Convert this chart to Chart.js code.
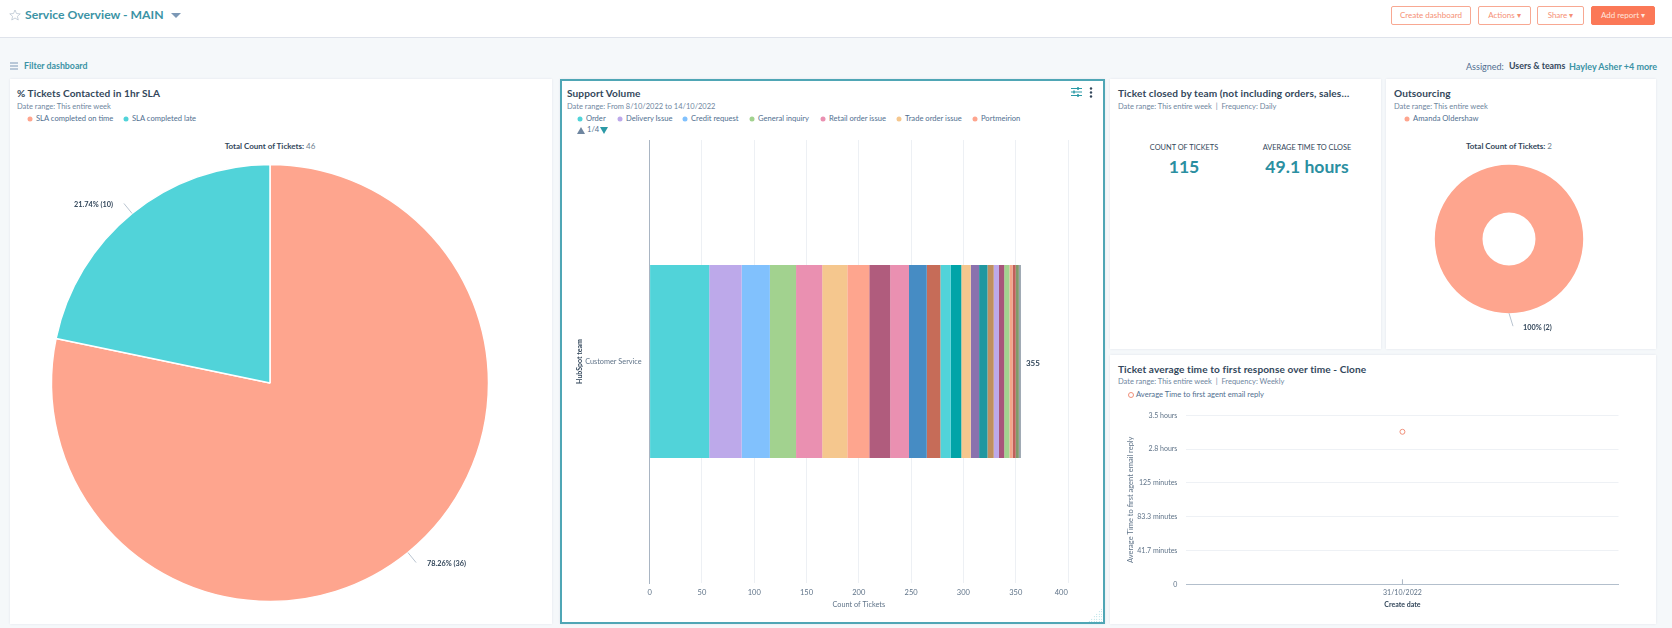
<!DOCTYPE html>
<html>
<head>
<meta charset="utf-8">
<title>Service Overview - MAIN</title>
<script src="https://cdn.jsdelivr.net/npm/chart.js@4"></script>
<style>
html, body { margin: 0; padding: 0; width: 1672px; height: 628px; overflow: hidden; background: #f5f8fa; font-family: Lato, "Open Sans", sans-serif; color: #33475b; }
.t { position: absolute; transform: translateY(-50%); white-space: nowrap; line-height: 1; }
.header { position: absolute; left: 0; top: 0; width: 1672px; height: 37px; background: #fff; border-bottom: 1px solid #dfe3eb; }
.card { position: absolute; background: #fff; box-shadow: 0 0 2px rgba(80, 100, 130, .12); }
.active { box-sizing: border-box; border: 2px solid #4fa6b5; }
.title { font-size: 10.1px; font-weight: 700; color: #33475b; letter-spacing: .1px; }
.sub { font-size: 7.5px; color: #6f86a0; }
.leg { font-size: 7.6px; color: #516f90; }
.dot { position: absolute; width: 5px; height: 5px; border-radius: 50%; transform: translate(-50%, -50%); }
.total { font-size: 8px; font-weight: 700; color: #33475b; transform: translate(-50%, -50%); }
.total span { font-weight: 400; color: #6f7f90; }
.btn { position: absolute; top: 6px; height: 19px; box-sizing: border-box; border: 1px solid #f8a892; border-radius: 2px; background: #fff; color: #f58f75; font-size: 8px; line-height: 17px; text-align: center; }
.btn.fill { background: #fb7857; border-color: #fb7857; color: #ffe6de; }
.kpi-h { font-size: 7.4px; color: #33475b; transform: translate(-50%, -50%); }
.kpi-v { font-size: 17.6px; font-weight: 700; color: #2b8fa1; transform: translate(-50%, -50%); }
canvas { position: absolute; }
.tri-d { position: absolute; width: 0; height: 0; border-left: 4px solid transparent; border-right: 4px solid transparent; border-top: 7px solid #2b99a6; }
.tri-u { position: absolute; width: 0; height: 0; border-left: 4px solid transparent; border-right: 4px solid transparent; border-bottom: 7px solid #6f86a0; }
.grip { position: absolute; left: 1088px; top: 608px; width: 14px; height: 14px; background-image: radial-gradient(#8fd0d8 .7px, transparent .8px); background-size: 2.5px 2.5px; clip-path: polygon(100% 0, 100% 100%, 0 100%); }
</style>
</head>
<body>
<div class="header"></div>
<svg style="position:absolute;left:9px;top:9px" width="12" height="12" viewBox="0 0 24 24"><path d="M12 2l3 7 7.500 .7-5.700 5 1.700 7.300L12 18l-6.500 4 1.700-7.300-5.700-5L9 9z" fill="none" stroke="#b7c3d0" stroke-width="1.500"/></svg>
<div class="t" style="left:25px;top:15px;font-size:12.2px;font-weight:700;color:#3b93a5">Service Overview - MAIN</div>
<div style="position:absolute;left:171px;top:13px;width:0;height:0;border-left:5px solid transparent;border-right:5px solid transparent;border-top:5px solid #7c98b6"></div>
<div class="btn" style="left:1391px;width:80px">Create dashboard</div>
<div class="btn" style="left:1478px;width:53px">Actions &#9662;</div>
<div class="btn" style="left:1537px;width:47px">Share &#9662;</div>
<div class="btn fill" style="left:1591px;width:64px">Add report &#9662;</div>

<svg style="position:absolute;left:10px;top:62px" width="8" height="8" viewBox="0 0 8 8"><path d="M0 1h8M0 4h8M0 7h8" stroke="#7c98b6" stroke-width="1"/></svg>
<div class="t" style="left:24px;top:66px;font-size:8.8px;font-weight:700;color:#3b93a5">Filter dashboard</div>
<div class="t" style="left:1466px;top:66px;font-size:9px;color:#516f90">Assigned:</div>
<div class="t" style="left:1509px;top:66px;font-size:8.8px;font-weight:700;color:#33475b">Users &amp; teams</div>
<div class="t" style="left:1569px;top:66px;font-size:9px;font-weight:700;color:#3b93a5">Hayley Asher +4 more</div>

<div class="card" style="left:10px;top:79px;width:542px;height:545px"></div>
<div class="card active" style="left:560px;top:79px;width:545px;height:545px"></div>
<div class="card" style="left:1110px;top:79px;width:271px;height:270px"></div>
<div class="card" style="left:1386px;top:79px;width:270px;height:270px"></div>
<div class="card" style="left:1110px;top:355px;width:546px;height:269px"></div>
<div class="grip"></div>

<div class="t title" style="left:17px;top:93px">% Tickets Contacted in 1hr SLA</div>
<div class="t sub" style="left:17px;top:107px">Date range: This entire week</div>
<div id="legend-sla"></div>
<div class="t total" style="left:270px;top:146px">Total Count of Tickets: <span id="sla-total"></span></div>

<div class="t title" style="left:567px;top:93px">Support Volume</div>
<div class="t sub" style="left:567px;top:107px">Date range: From 8/10/2022 to 14/10/2022</div>
<div id="legend-volume"></div>
<div class="tri-u" style="left:577px;top:127px"></div>
<div class="t leg" style="left:587px;top:130px">1/4</div>
<div class="tri-d" style="left:600px;top:127px"></div>
<svg style="position:absolute;left:1071px;top:87px" width="11" height="10" viewBox="0 0 11 10"><path d="M0 1.500h11M0 5h11M0 8.500h11" stroke="#2b99a6" stroke-width="1"/><path d="M7 0v3M3 3.500v3M7 7v3" stroke="#2b99a6" stroke-width="1.500"/></svg>
<svg style="position:absolute;left:1089px;top:87px" width="4" height="11" viewBox="0 0 4 11"><circle cx="2" cy="1.500" r="1.200" fill="#33475b"/><circle cx="2" cy="5.500" r="1.200" fill="#33475b"/><circle cx="2" cy="9.500" r="1.200" fill="#33475b"/></svg>

<div class="t title" style="left:1118px;top:93px">Ticket closed by team (not including orders, sales&hellip;</div>
<div class="t sub" style="left:1118px;top:107px">Date range: This entire week &nbsp;|&nbsp; Frequency: Daily</div>
<div class="t kpi-h" style="left:1184px;top:148px">COUNT OF TICKETS</div>
<div class="t kpi-v" style="left:1184px;top:167px">115</div>
<div class="t kpi-h" style="left:1307px;top:148px">AVERAGE TIME TO CLOSE</div>
<div class="t kpi-v" style="left:1307px;top:167px">49.1 hours</div>

<div class="t title" style="left:1394px;top:93px">Outsourcing</div>
<div class="t sub" style="left:1394px;top:107px">Date range: This entire week</div>
<div id="legend-outsource"></div>
<div class="t total" style="left:1509px;top:146px">Total Count of Tickets: <span id="outsource-total"></span></div>

<div class="t title" style="left:1118px;top:369px">Ticket average time to first response over time - Clone</div>
<div class="t sub" style="left:1118px;top:382px">Date range: This entire week &nbsp;|&nbsp; Frequency: Weekly</div>
<div class="dot" style="left:1131px;top:395px;background:#fff;border:1px solid #f0907a;width:4px;height:4px"></div>
<div class="t leg" style="left:1136px;top:395px">Average Time to first agent email reply</div>

<canvas id="slaPie"></canvas>
<canvas id="volumeBar"></canvas>
<canvas id="outsourceDonut"></canvas>
<canvas id="responseLine"></canvas>

<script>
// SLA pie
const slaLabels = ['SLA completed on time', 'SLA completed late'];
const slaValues = [36, 10];
const slaColors = ['#fea58e', '#51d3d9'];

// Support volume stacked bar
const volumeCategories = ['Customer Service'];
const volumeNames = ['Order', 'Delivery Issue', 'Credit request', 'General inquiry', 'Retail order issue', 'Trade order issue', 'Portmeirion'];
const volumeValues = [57, 31, 27, 25, 25, 24, 21, 20, 18, 17, 13, 10, 10, 9, 8, 8, 6, 5, 5, 5, 3, 3, 3, 2];
const volumeColors = ['#51d3d9', '#bda9ea', '#81c1fd', '#a2d28f', '#ea90b1', '#f5c78e', '#fea58e', '#b05c7d', '#ea90b1', '#468cc4',
    '#c66c58', '#51d3d9', '#00a4a8', '#f5c78e', '#8a72ae', '#2097a0', '#bf8f60', '#bda9ea', '#a8547a', '#a2d28f', '#f5a58a', '#c0605a', '#7f9a6a', '#9aa5b0'];
const volumeTicks = [0, 50, 100, 150, 200, 250, 300, 350, 400];

// Outsourcing donut
const outsourceLabels = ['Amanda Oldershaw'];
const outsourceValues = [2];

// First response line
const responseDates = ['31/10/2022'];
const responseMinutes = [188];
const responseTickValues = [0, 41.67, 83.33, 125, 166.67, 208.33];
const responseTickLabels = ['0', '41.7 minutes', '83.3 minutes', '125 minutes', '2.8 hours', '3.5 hours'];

const FONT = 'Lato, "Open Sans", sans-serif';
const TICK_COLOR = '#5f7388';
Chart.defaults.font.family = FONT;
Chart.defaults.animation = false;
Chart.defaults.responsive = false;
Chart.defaults.plugins.legend.display = false;
Chart.defaults.plugins.tooltip.enabled = false;

function place(id, left, top, width, height) {
    const el = document.getElementById(id);
    el.style.left = left + 'px';
    el.style.top = top + 'px';
    el.width = width;
    el.height = height;
    return el;
}

function addLegend(id, names, colors, xs, y) {
    const box = document.getElementById(id);
    names.forEach((name, i) => {
        box.insertAdjacentHTML('beforeend',
            `<div class="dot" style="left:${xs[i]}px;top:${y}px;background:${colors[i]}"></div>` +
            `<div class="t leg" style="left:${xs[i] + 6}px;top:${y}px">${name}</div>`);
    });
}

// stop tick labels from pushing the plot area around
function fixHeight(h) {
    return scale => { scale.height = h; scale.paddingLeft = 0; scale.paddingRight = 0; };
}
function fixWidth(w) {
    return scale => { scale.width = w; scale.paddingTop = 0; scale.paddingBottom = 0; };
}

addLegend('legend-sla', slaLabels, slaColors, [30, 126], 119);
addLegend('legend-volume', volumeNames, volumeColors, [580, 620, 685, 752, 823, 899, 975], 119);
addLegend('legend-outsource', outsourceLabels, [slaColors[0]], [1407], 119);
document.getElementById('sla-total').textContent = slaValues.reduce((a, b) => a + b, 0);
document.getElementById('outsource-total').textContent = outsourceValues.reduce((a, b) => a + b, 0);

// leader lines and labels outside the pie slices
const sliceLabels = {
    id: 'sliceLabels',
    afterDraw(chart, args, opts) {
        const ctx = chart.ctx;
        const data = chart.data.datasets[0].data;
        const total = data.reduce((a, b) => a + b, 0);
        chart.getDatasetMeta(0).data.forEach((arc, i) => {
            const p = arc.getProps(['x', 'y', 'startAngle', 'endAngle', 'outerRadius']);
            const mid = (p.startAngle + p.endAngle) / 2;
            const x0 = p.x + Math.cos(mid) * p.outerRadius;
            const y0 = p.y + Math.sin(mid) * p.outerRadius;
            const x1 = p.x + Math.cos(mid) * (p.outerRadius + opts.lead) + opts.nudge;
            const y1 = p.y + Math.sin(mid) * (p.outerRadius + opts.lead);
            ctx.save();
            ctx.strokeStyle = '#b9c4d0';
            ctx.lineWidth = 1;
            ctx.beginPath();
            ctx.moveTo(x0, y0);
            ctx.lineTo(x1, y1);
            ctx.stroke();
            const right = Math.cos(mid) >= -0.01;
            const pct = data[i] / total * 100;
            const text = (pct === 100 ? '100' : pct.toFixed(2)) + '% (' + data[i] + ')';
            ctx.font = '700 7.3px ' + FONT;
            ctx.fillStyle = '#33475b';
            ctx.textBaseline = 'middle';
            ctx.textAlign = right ? 'left' : 'right';
            ctx.fillText(text, x1 + (right ? opts.gap : -opts.gap), y1 + opts.drop);
            ctx.restore();
        });
    }
};

new Chart(place('slaPie', 20, 158, 500, 450), {
    type: 'pie',
    data: {
        labels: slaLabels,
        datasets: [{ data: slaValues, backgroundColor: slaColors, borderColor: '#fff', borderWidth: 1.5 }]
    },
    options: {
        layout: { padding: 5.75 },
        plugins: { sliceLabels: { lead: 13, nudge: 0, gap: 11, drop: 1 } }
    },
    plugins: [sliceLabels]
});

new Chart(place('outsourceDonut', 1391, 144, 236, 190), {
    type: 'doughnut',
    data: {
        labels: outsourceLabels,
        datasets: [{ data: outsourceValues, backgroundColor: [slaColors[0]], borderWidth: 0 }]
    },
    options: {
        cutout: '35.7%',
        layout: { padding: 20.8 },
        plugins: { sliceLabels: { lead: 13, nudge: 4, gap: 10, drop: 1 } }
    },
    plugins: [sliceLabels]
});

// total at the end of the stack
const stackTotal = {
    id: 'stackTotal',
    afterDraw(chart) {
        const last = chart.getDatasetMeta(chart.data.datasets.length - 1).data[0];
        const total = chart.data.datasets.reduce((sum, d) => sum + d.data[0], 0);
        const ctx = chart.ctx;
        ctx.save();
        ctx.font = '700 8px ' + FONT;
        ctx.fillStyle = '#33475b';
        ctx.textBaseline = 'middle';
        ctx.fillText(total, last.x + 5, last.y + 2);
        ctx.restore();
    }
};

new Chart(place('volumeBar', 570, 135, 520, 480), {
    type: 'bar',
    data: {
        labels: volumeCategories,
        datasets: volumeValues.map((v, i) => ({
            label: volumeNames[i] || '',
            data: [v],
            backgroundColor: volumeColors[i],
            barPercentage: 1,
            categoryPercentage: 0.436
        }))
    },
    options: {
        indexAxis: 'y',
        layout: { padding: { top: 5, right: 22, left: 0, bottom: 6 } },
        scales: {
            x: {
                stacked: true,
                min: 0,
                max: 400,
                afterBuildTicks(scale) { scale.ticks = volumeTicks.map(value => ({ value })); },
                afterFit: fixHeight(26),
                grid: { color: '#edf0f4', drawTicks: false },
                border: { display: false },
                ticks: { color: TICK_COLOR, font: { size: 7.5 }, padding: 5, maxRotation: 0,
                    callback: v => v === 400 ? '400       ' : String(v) },
                title: { display: true, text: 'Count of Tickets', color: TICK_COLOR, font: { size: 7.3 }, padding: { top: 2, bottom: 0 } }
            },
            y: {
                stacked: true,
                afterFit: fixWidth(79.6),
                grid: { display: false, drawTicks: false },
                border: { color: '#a9b5c3', width: 1 },
                ticks: { color: TICK_COLOR, font: { size: 7.3 }, padding: 8 },
                title: { display: true, text: 'HubSpot team', color: '#33475b', font: { size: 7, weight: '700' }, padding: { top: 6, bottom: 0 } }
            }
        }
    },
    plugins: [stackTotal]
});

// small tick standing on the date axis
const dateTick = {
    id: 'dateTick',
    afterDraw(chart) {
        const ctx = chart.ctx;
        const x = chart.scales.x.getPixelForValue(0);
        const y = chart.scales.y.getPixelForValue(0);
        ctx.save();
        ctx.strokeStyle = '#a9b5c3';
        ctx.beginPath();
        ctx.moveTo(x, y);
        ctx.lineTo(x, y - 5);
        ctx.stroke();
        ctx.restore();
    }
};

new Chart(place('responseLine', 1122, 405, 520, 207), {
    type: 'line',
    data: {
        labels: responseDates,
        datasets: [{
            label: 'Average Time to first agent email reply',
            data: responseMinutes,
            showLine: false,
            pointRadius: 2.5,
            pointBorderWidth: 1,
            pointBorderColor: '#f0907a',
            pointBackgroundColor: '#fff'
        }]
    },
    options: {
        layout: { padding: { top: 10.3, right: 23.5, left: 0, bottom: 3 } },
        scales: {
            x: {
                offset: true,
                afterFit: fixHeight(24.7),
                grid: { display: false, drawTicks: false },
                border: { color: '#b3bfcc', width: 1 },
                ticks: { color: TICK_COLOR, font: { size: 7 }, padding: 4, maxRotation: 0 },
                title: { display: true, text: 'Create date', color: '#33475b', font: { size: 7, weight: '700' }, padding: { top: 1, bottom: 0 } }
            },
            y: {
                min: 0,
                max: 208.33,
                afterBuildTicks(scale) { scale.ticks = responseTickValues.map(value => ({ value })); },
                afterFit: fixWidth(64.4),
                grid: { color: '#eef1f5', drawTicks: false },
                border: { display: false },
                ticks: { color: TICK_COLOR, font: { size: 7 }, padding: 9,
                    callback: (v, i) => responseTickLabels[i] },
                title: { display: true, text: 'Average Time to first agent email reply', color: TICK_COLOR, font: { size: 7.5 }, padding: { top: 4, bottom: 0 } }
            }
        }
    },
    plugins: [dateTick]
});
</script>
</body>
</html>
